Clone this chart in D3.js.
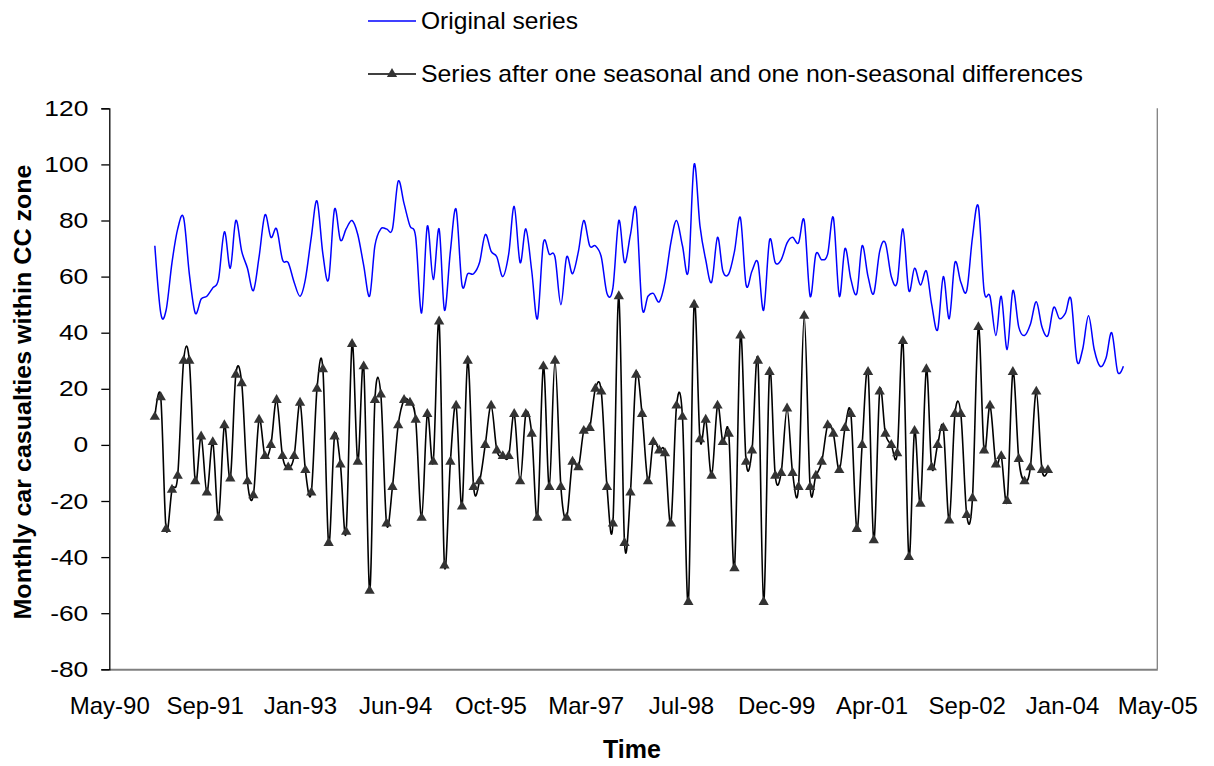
<!DOCTYPE html>
<html>
<head>
<meta charset="utf-8">
<title>Monthly car casualties within CC zone</title>
<style>
  body { margin: 0; background: #fff; }
  svg { display: block; font-family: "Liberation Sans", Arial, sans-serif; }
</style>
</head>
<body>
<script src="https://cdn.jsdelivr.net/npm/d3@7/dist/d3.min.js"></script>
<script>
// monthly series, Jan 1991 .. Dec 2004
var original = [
  71, 47, 48, 65, 77, 81, 61, 47, 52, 53, 56, 59,
  76, 63, 80, 69, 63, 55, 67, 82, 74, 77, 66, 65,
  58, 53, 59, 74, 87, 68, 59, 84, 73, 77, 80, 75,
  64, 53, 71, 77, 77, 77, 94, 86, 78, 74, 47, 78,
  59, 77, 48, 69, 84, 57, 61, 61, 65, 75, 69, 67,
  60, 68, 85, 65, 77, 62, 45, 72, 68, 67, 50, 67,
  61, 69, 80, 71, 71, 67, 54, 56, 80, 65, 75, 84,
  49, 53, 54, 51, 58, 72, 80, 71, 62, 100, 78, 66,
  58, 74, 62, 61, 69, 81, 57, 62, 65, 48, 73, 65,
  66, 72, 74, 72, 80, 53, 68, 66, 68, 81, 53, 70,
  59, 54, 71, 60, 54, 69, 72, 60, 58, 77, 55, 63,
  57, 62, 50, 41, 60, 45, 65, 58, 55, 74, 85, 55,
  53, 39, 53, 34, 55, 42, 39, 43, 51, 42, 39, 49,
  45, 47, 52, 30, 34, 46, 34, 28, 31, 40, 26, 28
];
// after one seasonal and one non-seasonal difference (plotted from Jan 1991)
var differenced = [
  10, 17, -30, -16, -11, 30, 30, -13, 3, -17, 1, -26,
  7, -12, 25, 22, -13, -18, 9, -4, 0, 16, -4, -8,
  -4, 15, -9, -17, 20, 27, -35, 3, -7, -31, 36, -6,
  28, -52, 16, 18, -28, -15, 7, 16, 15, 9, -26, 11,
  -6, 44, -43, -6, 14, -22, 30, -15, -13, 0, 14, -2,
  -4, -4, 11, -13, 11, 4, -26, 28, -15, 30, -15, -26,
  -6, -8, 5, 6, 20, 19, -15, -28, 53, -35, -17, 25,
  11, -13, 1, -2, -3, -28, 14, 10, -56, 50, 2, 9,
  -11, 14, 1, 4, -44, 39, -6, -2, 30, -56, 26, -11,
  -10, 13, -10, -15, 46, -15, -11, -6, 7, 4, -9, 6,
  11, -30, 0, 26, -34, 19, 4, 0, -3, 37, -40, 5,
  -21, 27, -8, 0, 6, -27, 11, 11, -25, -19, 42, -2,
  14, -7, -4, -20, 26, -5, -13, -8, 19, -9, -9
];
var seriesNames = ["Original series", "Series after one seasonal and one non-seasonal differences"];
// excel date axis: 500 day steps
var tickDates = ["1990-05-07", "1991-09-19", "1993-01-31", "1994-06-15", "1995-10-28", "1997-03-11",
                 "1998-07-24", "1999-12-06", "2001-04-19", "2002-09-01", "2004-01-14", "2005-05-28"];
var yTicks = [-80, -60, -40, -20, 0, 20, 40, 60, 80, 100, 120];

var width = 1214, height = 766,
    margin = { top: 108.3, right: 56.7, bottom: 96.7, left: 109.3 };
var iw = width - margin.left - margin.right,
    ih = height - margin.top - margin.bottom;

var start = new Date(Date.UTC(1991, 0, 1));
function month(i) { return d3.utcMonth.offset(start, i); }
var ticks = tickDates.map(function(s) { return new Date(s + "T00:00:00Z"); });

var x = d3.scaleUtc().domain([ticks[0], ticks[ticks.length - 1]]).range([0, iw]);
var y = d3.scaleLinear().domain([-80, 120]).range([ih, 0]);

var svg = d3.select("body").append("svg")
    .attr("width", width)
    .attr("height", height);
var g = svg.append("g")
    .attr("transform", "translate(" + margin.left + "," + margin.top + ")");

// plot area border (grey) on the right
g.append("line")
    .attr("x1", iw).attr("x2", iw).attr("y1", 0).attr("y2", ih)
    .attr("stroke", "#808080").attr("stroke-width", 1.3);

// x axis
var xAxis = g.append("g")
    .attr("transform", "translate(0," + ih + ")")
    .call(d3.axisBottom(x).tickValues(ticks).tickFormat(d3.utcFormat("%b-%y")).tickSize(0));
xAxis.select(".domain").attr("stroke", "#808080").attr("stroke-width", 2);
xAxis.selectAll("text")
    .attr("y", 45).attr("dy", 0)
    .attr("fill", "#000")
    .style("font-size", "24px");

// y axis
var yAxis = g.append("g")
    .call(d3.axisLeft(y).tickValues(yTicks).tickSize(8)
      .tickFormat(function(d) { return String(d); }));
yAxis.select(".domain").attr("stroke", "#000").attr("stroke-width", 1.3);
yAxis.selectAll(".tick line").attr("stroke", "#000").attr("stroke-width", 1.3);
// excel labels are a bit wider than plain Arial
yAxis.selectAll("text")
    .attr("x", 0)
    .attr("transform", "translate(-21,0) scale(1.2,1)")
    .attr("fill", "#000")
    .style("font-size", "22px");

var line = d3.line()
    .x(function(d, i) { return x(month(i)); })
    .y(function(d) { return y(d); })
    .curve(d3.curveCatmullRom.alpha(0));

g.append("path")
    .datum(original)
    .attr("d", line)
    .attr("fill", "none")
    .attr("stroke", "#0000ff")
    .attr("stroke-width", 1.5);

g.append("path")
    .datum(differenced)
    .attr("d", line)
    .attr("fill", "none")
    .attr("stroke", "#000")
    .attr("stroke-width", 1.6);

var tri = d3.symbol().type(d3.symbolTriangle).size(46);
g.selectAll(".marker")
    .data(differenced)
  .enter().append("path")
    .attr("class", "marker")
    .attr("d", tri)
    .attr("transform", function(d, i) { return "translate(" + x(month(i)) + "," + y(d) + ")"; })
    .attr("fill", "#333");

// axis titles
svg.append("text")
    .attr("x", 632).attr("y", 758)
    .attr("text-anchor", "middle")
    .style("font-size", "25px").style("font-weight", "bold")
    .text("Time");
svg.append("text")
    .attr("transform", "translate(31,392) rotate(-90)")
    .attr("text-anchor", "middle")
    .attr("textLength", 455).attr("lengthAdjust", "spacingAndGlyphs")
    .style("font-size", "24px").style("font-weight", "bold")
    .text("Monthly car casualties within CC zone");

// legend
var legend = svg.append("g");
var legendY = [21, 74];
var legendLen = [157, 662];
legend.append("line")
    .attr("x1", 368).attr("x2", 416).attr("y1", legendY[0]).attr("y2", legendY[0])
    .attr("stroke", "#0000ff").attr("stroke-width", 1.5);
legend.append("line")
    .attr("x1", 368).attr("x2", 416).attr("y1", legendY[1]).attr("y2", legendY[1])
    .attr("stroke", "#000").attr("stroke-width", 1.6);
legend.append("path")
    .attr("d", tri)
    .attr("transform", "translate(392," + legendY[1] + ")")
    .attr("fill", "#333");
legend.selectAll(".ltext")
    .data(seriesNames)
  .enter().append("text")
    .attr("class", "ltext")
    .attr("x", 421)
    .attr("y", function(d, i) { return legendY[i]; })
    .attr("dy", "0.35em")
    .attr("textLength", function(d, i) { return legendLen[i]; })
    .attr("lengthAdjust", "spacingAndGlyphs")
    .style("font-size", "24px")
    .text(function(d) { return d; });
</script>
</body>
</html>
